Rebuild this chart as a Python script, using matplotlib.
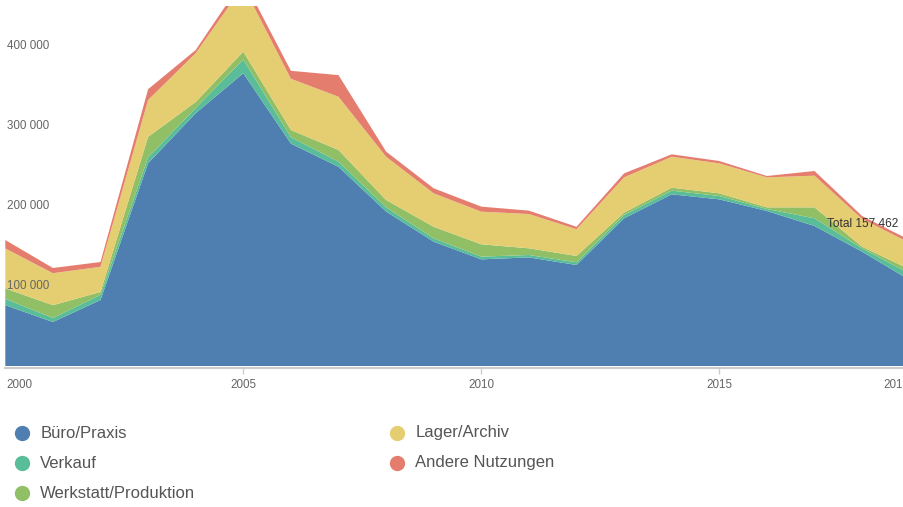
import numpy as np
import matplotlib
matplotlib.use("Agg")
import matplotlib.pyplot as plt
from matplotlib.lines import Line2D

plt.rcParams['font.family'] = ['Liberation Sans', 'DejaVu Sans']

years = list(range(2000, 2020))
buero = [76000, 55000, 82500, 253500, 316000, 366000, 278000, 249000, 193000, 155400,
         133300, 135800, 126250, 184600, 214600, 208300, 193750, 175000, 142900, 107400]
verkauf = [8000, 5000, 6500, 7500, 6500, 17000, 8000, 6400, 5300, 4200,
           3400, 2950, 3350, 4150, 4600, 4200, 2500, 9600, 4200, 8000]
werkstatt = [13000, 16000, 3500, 25500, 7500, 10000, 9000, 14600, 9200, 14400,
             15400, 8350, 7900, 2950, 3700, 3300, 2050, 13700, 2000, 5350]
lager = [50000, 40000, 31500, 46000, 61000, 82000, 64000, 66600, 54100, 41800,
         40800, 42900, 33500, 44100, 38700, 37500, 37500, 39600, 34650, 33150]
andere = [10500, 6500, 6000, 13500, 4000, 8000, 10000, 27000, 6400, 6300,
          6300, 4200, 3000, 5000, 3000, 2950, 1700, 5850, 3750, 3562]

names = ['Büro/Praxis', 'Verkauf', 'Werkstatt/Produktion', 'Lager/Archiv', 'Andere Nutzungen']
colors = ['#4f7fb1', '#58bd98', '#90bf66', '#e5ce72', '#e57d6f']
y_ticks = [100000, 200000, 300000, 400000]
x_ticks = [2000, 2005, 2010, 2015, 2019]

W, H = 904, 507
fig = plt.figure(figsize=(W / 100, H / 100), dpi=100)
# axes in pixel terms: 2000 at x=5.3, 2019 at x=909.7, 0 at y=366, top at y=6
ax = fig.add_axes([5.3 / W, (H - 366) / H, 904.4 / W, 360 / H])

series = [buero, verkauf, werkstatt, lager, andere]
ax.stackplot(years, *series, colors=colors, linewidth=0)
ax.set_xlim(2000, 2019)
ax.set_ylim(0, 450000)

for s in ['top', 'left', 'right']:
    ax.spines[s].set_visible(False)
ax.spines['bottom'].set_color('#cccccc')
ax.spines['bottom'].set_linewidth(1.5)
ax.spines['bottom'].set_position(('outward', 1.5))

ax.set_yticks([])
ax.set_xticks([2005, 2010, 2015])
ax.set_xticklabels([])
ax.tick_params(axis='x', length=4, width=1, color='#cccccc')

for v in y_ticks:
    ax.text(0.0015, v, f"{v:,}".replace(',', ' '), transform=ax.get_yaxis_transform(),
            ha='left', va='center', fontsize=8.4, color='#666666', zorder=5)

for yr in x_ticks:
    ha = 'center'
    if yr == 2000:
        ha = 'left'
    elif yr == 2019:
        ha = 'right'
    fig.text((5.3 + (yr - 2000) * 47.6 + (1.5 if yr == 2000 else 0)) / W, 1 - 384.5 / H, str(yr),
             ha=ha, va='center', fontsize=8.4, color='#666666')

total = sum(s[-1] for s in series)
fig.text(827 / W, 1 - 224 / H, f"Total {total:,}".replace(',', ' '),
         ha='left', va='center', fontsize=8.6, color='#333333')

# legend
leg_pos = [(21.7, 433), (21.7, 463), (21.7, 493), (396.7, 433), (396.7, 463)]
for (px, py), name, c in zip(leg_pos, names, colors):
    fig.add_artist(Line2D([px / W], [1 - py / H], marker='o', markersize=10,
                          color=c, linestyle='none', transform=fig.transFigure))
    fig.text((px + 18.5) / W, 1 - py / H, name, ha='left', va='center',
             fontsize=12, color='#555555')

fig.savefig('out.png', dpi=100)
